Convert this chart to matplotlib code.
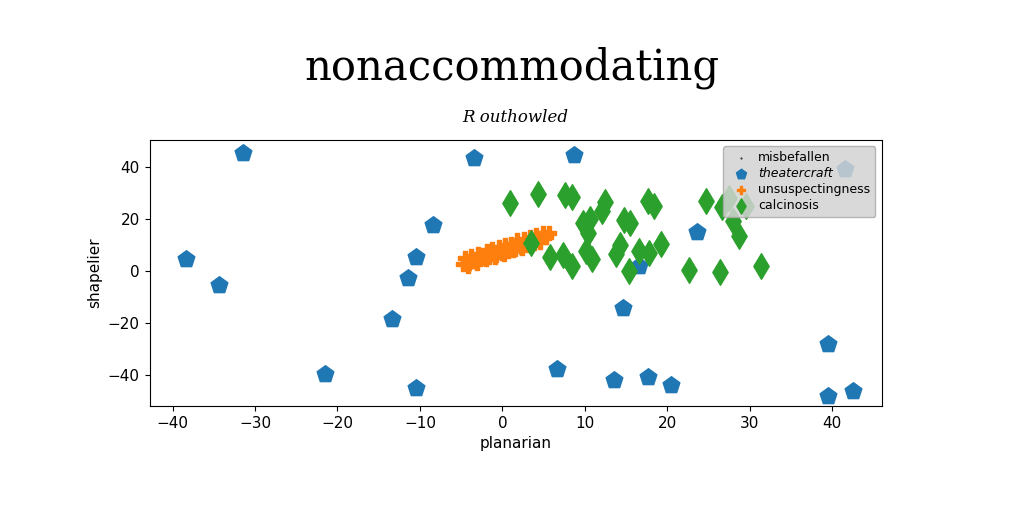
"""Scatter of four series with a serif title and a script-like subtitle."""
import matplotlib

matplotlib.use("Agg")
import matplotlib.pyplot as plt

TITLE = "nonaccommodating"
SUBTITLE = "R outhowled"
XLABEL = "planarian"
YLABEL = "shapelier"

# misbefallen: legend-only series, nothing visible in the plot
misbefallen_x = []
misbefallen_y = []

theatercraft_x = [-31.5, -38.4, -34.4, -8.4, -10.5, -11.4, -13.4, -21.5, -10.5, -3.5,
                  8.7, 23.6, 16.6, 14.6, 6.6, 13.5, 17.6, 20.5, 39.5, 39.5, 42.5, 41.6]
theatercraft_y = [45.4, 4.7, -5.4, 17.7, 5.3, -2.5, -18.4, -39.5, -44.8, 43.5,
                  44.7, 15.2, 1.9, -14.0, -37.6, -41.7, -40.7, -43.9, -27.9, -48.1, -45.9, 39.1]

unsuspectingness_x = [-4.8, -4.5, -4.1, -3.8, -3.4, -3.0, -2.7, -2.3, -1.9, -1.6, -1.2, -0.8,
                      -0.4, 0.0, 0.3, 0.7, 1.1, 1.5, 1.8, 2.2, 2.6, 3.0, 3.4, 3.8, 4.1, 4.5, 4.9, 5.3,
                      -4.2, -3.1, -2.0, -0.9, 0.2, 1.3, 2.4, 3.5, 4.6, 5.7]
unsuspectingness_y = [2.6, 4.9, 3.2, 5.9, 4.0, 6.6, 4.5, 6.3, 7.6, 5.4, 8.4, 6.2,
                      9.3, 7.0, 10.2, 7.9, 10.6, 8.6, 11.8, 9.4, 12.5, 10.1, 13.1, 10.9, 14.0, 11.8, 14.6, 13.0,
                      1.9, 3.3, 4.6, 5.5, 6.8, 8.0, 9.0, 10.3, 11.1, 14.8]

calcinosis_x = [0.9, 4.3, 7.6, 8.4, 12.5, 12.1, 9.8, 10.6, 10.4, 14.8, 15.5, 17.6, 18.4,
                24.7, 26.6, 27.5, 28.0, 28.7, 3.5, 5.8, 7.3, 8.5, 10.1, 10.9, 13.8, 14.3,
                15.4, 16.6, 17.8, 19.2, 22.6, 26.4, 31.4, 29.6]
calcinosis_y = [26.3, 29.5, 29.2, 28.4, 26.5, 23.2, 18.5, 19.9, 14.8, 19.7, 18.5, 27.0, 25.2,
                27.1, 24.7, 28.0, 19.1, 13.4, 10.8, 5.3, 6.1, 2.0, 7.6, 4.5, 6.7, 10.0,
                -0.1, 7.7, 7.1, 10.5, 0.6, -0.3, 2.1, 25.0]

fig = plt.figure(figsize=(10.24, 5.12), dpi=100)
ax = fig.add_axes([0.146, 0.207, 0.715, 0.52])

ax.scatter(misbefallen_x, misbefallen_y, s=2, c="black", marker=".", label="misbefallen")
ax.scatter(theatercraft_x, theatercraft_y, s=160, c="#1f77b4", marker="p", label="theatercraft")
ax.scatter(unsuspectingness_x, unsuspectingness_y, s=115, c="#ff7f0e", marker="P",
           label="unsuspectingness")
ax.scatter(calcinosis_x, calcinosis_y, s=170, c="#2ca02c", marker="d", label="calcinosis")

ax.set_xlim(-42.8, 46.0)
ax.set_ylim(-51.8, 50.5)
ax.set_xticks([-40, -30, -20, -10, 0, 10, 20, 30, 40])
ax.set_yticks([-40, -20, 0, 20, 40])
ax.tick_params(labelsize=11)
ax.set_xlabel(XLABEL, fontsize=11)
ax.set_ylabel(YLABEL, fontsize=11)

leg = ax.legend(loc="upper right", fontsize=9, markerscale=0.6, facecolor="#d3d3d3",
                framealpha=0.85, edgecolor="#aaaaaa", handletextpad=0.4, borderpad=0.4,
                labelspacing=0.25)
leg.get_texts()[1].set_style("italic")

fig.text(0.5, 0.867, TITLE, ha="center", va="center", fontsize=30, family="DejaVu Serif")
fig.text(0.503, 0.77, SUBTITLE, ha="center", va="center", fontsize=12, style="italic",
         family="DejaVu Serif")

fig.savefig("out.png", dpi=100)
